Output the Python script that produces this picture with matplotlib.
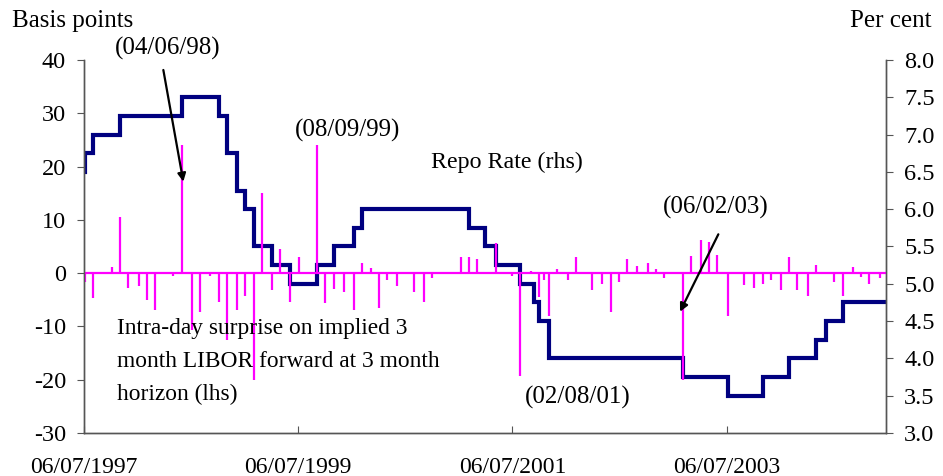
import matplotlib
matplotlib.use("Agg")
import matplotlib.pyplot as plt
import matplotlib.dates as mdates
import numpy as np
import pandas as pd

# Bank of England repo rate changes (per cent)
repo_dates = ["1997-07-06", "1997-07-10", "1997-08-07", "1997-11-06", "1998-06-04",
              "1998-10-08", "1998-11-05", "1998-12-10", "1999-01-07", "1999-02-04",
              "1999-04-08", "1999-06-10", "1999-09-08", "1999-11-04", "2000-01-13",
              "2000-02-10", "2001-02-08", "2001-04-05", "2001-05-10", "2001-08-02",
              "2001-09-18", "2001-10-04", "2001-11-08", "2003-02-06", "2003-07-10",
              "2003-11-06", "2004-02-05", "2004-05-06", "2004-06-10", "2004-08-05",
              "2004-12-31"]
repo_rates = [6.5, 6.75, 7.0, 7.25, 7.5, 7.25, 6.75, 6.25, 6.0, 5.5,
              5.25, 5.0, 5.25, 5.5, 5.75, 6.0, 5.75, 5.5, 5.25, 5.0,
              4.75, 4.5, 4.0, 3.75, 3.5, 3.75, 4.0, 4.25, 4.5, 4.75,
              4.75]

# intra-day surprises (basis points)
surprise_dates = ["1997-07-10", "1997-08-07", "1997-10-09", "1997-11-06", "1997-12-04",
                  "1998-01-08", "1998-02-05", "1998-03-05", "1998-04-09", "1998-05-07",
                  "1998-06-04", "1998-07-09", "1998-08-06", "1998-09-10", "1998-10-08",
                  "1998-11-05", "1998-12-10", "1999-01-07", "1999-02-04", "1999-03-04",
                  "1999-04-08", "1999-05-06", "1999-06-10", "1999-07-08", "1999-09-08",
                  "1999-10-07", "1999-11-04", "1999-12-09", "2000-01-13", "2000-02-10",
                  "2000-03-09", "2000-04-06", "2000-05-04", "2000-06-07", "2000-07-06",
                  "2000-08-03", "2000-09-07", "2000-10-05", "2000-12-07", "2001-01-11",
                  "2001-02-08", "2001-03-08", "2001-04-05", "2001-05-10", "2001-06-07",
                  "2001-07-05", "2001-08-02", "2001-09-06", "2001-10-04", "2001-10-20",
                  "2001-11-08", "2001-12-06", "2002-01-10", "2002-02-07", "2002-04-04",
                  "2002-05-09", "2002-06-06", "2002-07-04", "2002-08-01", "2002-09-05",
                  "2002-10-10", "2002-11-07", "2002-12-05", "2003-02-06", "2003-03-06",
                  "2003-04-10", "2003-05-08", "2003-06-05", "2003-07-10", "2003-09-04",
                  "2003-10-09", "2003-11-06", "2003-12-04", "2004-01-08", "2004-02-05",
                  "2004-03-04", "2004-04-08", "2004-05-06", "2004-07-08", "2004-08-05",
                  "2004-09-09", "2004-10-07", "2004-11-04", "2004-12-09"]
surprise_bp = [-1.6, -4.7, 1.2, 10.5, -2.8,
               -2.4, -5.0, -6.9, 0.3, -0.5,
               24.0, -10.6, -7.3, -0.5, -5.4,
               -12.5, -6.9, -4.3, -20.0, 15.1,
               -3.1, 4.5, -5.5, 3.1, 24.0,
               -5.6, -2.9, -3.6, -6.9, 1.9,
               0.9, -6.6, -1.3, -2.5, 0.3,
               -3.6, -5.5, -0.9, 0.3, 3.0,
               3.0, 2.6, 0.3, 5.6, 0.3,
               -0.5, -19.3, 0.4, -4.4, -1.3,
               -8.1, 0.8, -1.3, 3.0, -3.1,
               -2.0, -7.2, -1.6, 2.6, 1.4,
               1.9, 0.8, -0.9, -20.0, 3.3,
               6.3, 5.9, 3.4, -8.0, -2.2,
               -2.8, -2.0, -1.3, -3.1, 3.0,
               -3.1, -4.3, 1.6, -1.7, -4.3,
               1.1, -0.8, -2.0, -0.9]

x_ticks = ["1997-07-06", "1999-07-06", "2001-07-06", "2003-07-06"]
x_start, x_end = "1997-07-06", "2004-12-31"

plt.rcParams['font.family'] = ['Liberation Serif', 'DejaVu Serif']
plt.rcParams['axes.unicode_minus'] = False

fig = plt.figure(figsize=(9.43, 4.76), dpi=100)
ax = fig.add_axes([0.0891, 0.0903, 0.8505, 0.7837])
ax2 = ax.twinx()

rd = pd.to_datetime(repo_dates)
sd = pd.to_datetime(surprise_dates)

ax2.step(rd, repo_rates, where='post', color='#000080', lw=3.0, solid_joinstyle='miter')
ax.axhline(0, color='#FF00FF', lw=1.6)
ax.vlines(sd, 0, surprise_bp, color='#FF00FF', lw=1.6)

# magenta series on top of the repo line
ax.set_zorder(ax2.get_zorder() + 1)
ax.patch.set_visible(False)

ax.set_xlim(pd.Timestamp(x_start), pd.Timestamp(x_end))
ax.set_ylim(-30, 40)
ax2.set_ylim(3.0, 8.0)
ax.set_yticks(np.arange(-30, 41, 10))
ax2.set_yticks(np.arange(3.0, 8.01, 0.5))
ax2.yaxis.set_major_formatter(matplotlib.ticker.FormatStrFormatter('%.1f'))
ax.set_xticks(pd.to_datetime(x_ticks))
ax.xaxis.set_major_formatter(mdates.DateFormatter('%d/%m/%Y'))

for a in (ax, ax2):
    a.spines['top'].set_visible(False)
    for s in a.spines.values():
        s.set_color('#555555')
        s.set_linewidth(1)
ax.tick_params(axis='y', direction='out', length=5, pad=8, labelsize=17.5, color='#555555')
ax2.tick_params(axis='y', direction='out', length=5, pad=8, labelsize=17.5, color='#555555')
ax.tick_params(axis='x', direction='in', length=5, pad=17, labelsize=17, color='#555555')

fig.text(0.013, 0.955, "Basis points", fontsize=18, va='center', ha='left')
fig.text(0.988, 0.955, "Per cent", fontsize=18, va='center', ha='right')

ax.text(0.1047, 1.032, "(04/06/98)", transform=ax.transAxes, fontsize=18, ha='center', va='center')
ax.text(0.329, 0.8123, "(08/09/99)", transform=ax.transAxes, fontsize=18, ha='center', va='center')
ax.text(0.527, 0.7265, "Repo Rate (rhs)", transform=ax.transAxes, fontsize=17.3, ha='center', va='center')
ax.text(0.788, 0.606, "(06/02/03)", transform=ax.transAxes, fontsize=18, ha='center', va='center')
ax.text(0.615, 0.0965, "(02/08/01)", transform=ax.transAxes, fontsize=18, ha='center', va='center')
ax.text(0.0408, 0.192, "Intra-day surprise on implied 3\nmonth LIBOR forward at 3 month\nhorizon (lhs)",
        transform=ax.transAxes, fontsize=16.8, ha='left', va='center', linespacing=1.75)

arrow = dict(arrowstyle='-|>', color='black', lw=1.6, mutation_scale=12, shrinkA=0, shrinkB=0)
ax.annotate("", xy=(0.1238, 0.6737), xytext=(0.0989, 0.9732), xycoords='axes fraction',
            textcoords='axes fraction', arrowprops=arrow, annotation_clip=False)
ax.annotate("", xy=(0.7431, 0.3252), xytext=(0.7909, 0.5327), xycoords='axes fraction',
            textcoords='axes fraction', arrowprops=arrow)

fig.savefig("out.png", dpi=100)
